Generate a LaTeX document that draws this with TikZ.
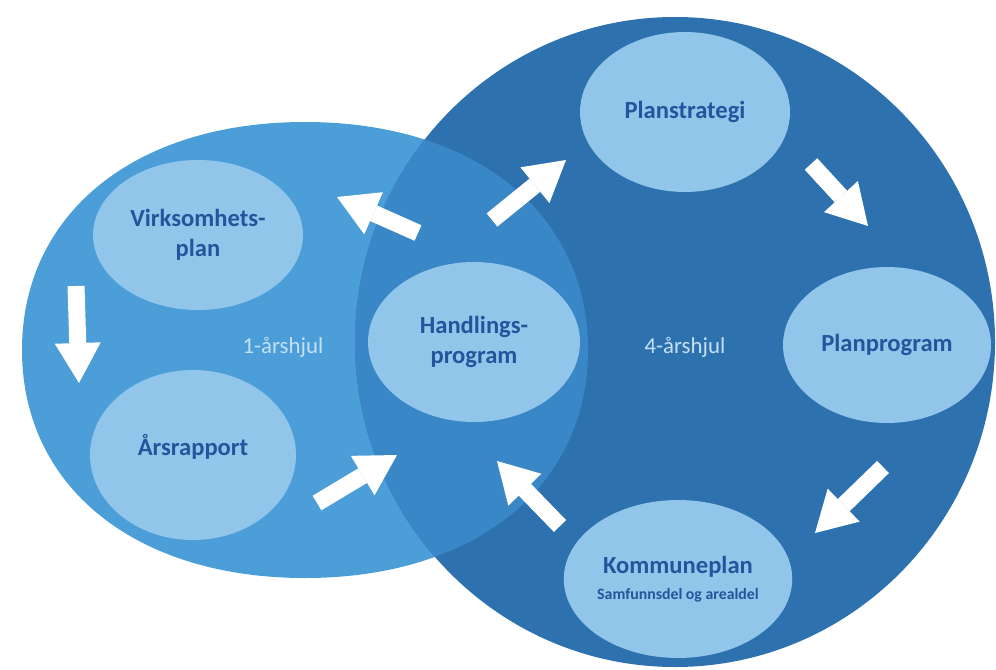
\documentclass[tikz,border=0pt]{standalone}
\usepackage{fontspec}
\setmainfont{Carlito}
\usepackage{tikz}
\usetikzlibrary{shapes.geometric, arrows.meta}

\definecolor{wheelone}{RGB}{76,158,216}
\definecolor{wheelfour}{RGB}{45,113,175}
\definecolor{wheelboth}{RGB}{58,135,200}
\definecolor{bubblefill}{RGB}{145,198,234}
\definecolor{bubbletext}{RGB}{38,84,156}
\definecolor{wheeltext}{RGB}{196,224,244}

\tikzstyle{bubble} = [ellipse, fill=bubblefill, text=bubbletext, inner sep=0pt, minimum width=4.2cm, minimum height=3.2cm, align=center, font=\fontsize{14}{17}\selectfont\bfseries]
\tikzstyle{flow} = [white, line width=0.34cm, -{Triangle[width=0.92cm,length=0.8cm,line width=0pt]}]
\tikzstyle{wheellabel} = [text=wheeltext, font=\fontsize{13}{15}\selectfont]

% outline of the 1-year wheel (a bit fuller than an ellipse)
\newcommand{\onewheel}{(588,350) .. controls (588,213.2) and (474.8,122) .. (305,122)
  .. controls (135.2,122) and (22,213.2) .. (22,350)
  .. controls (22,486.8) and (135.2,578) .. (305,578)
  .. controls (474.8,578) and (588,486.8) .. (588,350) -- cycle}

\begin{document}
\begin{tikzpicture}[x=0.02cm,y=-0.02cm]
	\useasboundingbox (0,0) rectangle (996,669);
	
	% Wheels:
	% the 4-year wheel lies over the 1-year wheel, the shared part gets its own colour
	\fill[wheelone] \onewheel;
	\fill[wheelfour] (675,342) ellipse [x radius=320, y radius=325];
	\begin{scope}
		\clip (675,342) ellipse [x radius=320, y radius=325];
		\fill[wheelboth] \onewheel;
	\end{scope}
	
	\node[wheellabel] (one) at (283,347) {1-årshjul};
	\node[wheellabel] (four) at (685,347) {4-årshjul};
	
	% Plans:
	\node[bubble, minimum height=3cm] (vp) at (198,235) {Virksomhets-\\plan};
	\node[bubble, minimum width=4.12cm, minimum height=3.4cm] (ar) at (193,455) {Årsrapport\\[-6pt]\mbox{}};
	\node[bubble, minimum width=4.24cm] (hp) at (474,342) {Handlings-\\program};
	\node[bubble] (ps) at (685,112) {Planstrategi};
	\node[bubble, minimum width=4.16cm, minimum height=3.12cm] (pp) at (887,345) {Planprogram};
	\node[bubble, minimum height=3.16cm] (kp) at (678,579) {Kommuneplan\\[-2pt]{\fontsize{9}{11}\selectfont Samfunnsdel og arealdel}};
	
	% Arrows:
	% start and end point of every arrow round the two wheels
	\coordinate (hpvp1) at (418,233); \coordinate (hpvp2) at (337,197);
	\coordinate (vpar1) at (76,286);  \coordinate (vpar2) at (79,383);
	\coordinate (arhp1) at (317,503); \coordinate (arhp2) at (397,455);
	\coordinate (hpps1) at (492,220); \coordinate (hpps2) at (566,160);
	\coordinate (pspp1) at (811,164); \coordinate (pspp2) at (868,226);
	\coordinate (ppkp1) at (883,467); \coordinate (ppkp2) at (815,533);
	\coordinate (kphp1) at (560,526); \coordinate (kphp2) at (497,461);
	
	\foreach \from/\to in {hpvp1/hpvp2, vpar1/vpar2, arhp1/arhp2, hpps1/hpps2, pspp1/pspp2, ppkp1/ppkp2, kphp1/kphp2}{%
		\draw[flow] (\from) -- (\to);
	}
\end{tikzpicture}
\end{document}
